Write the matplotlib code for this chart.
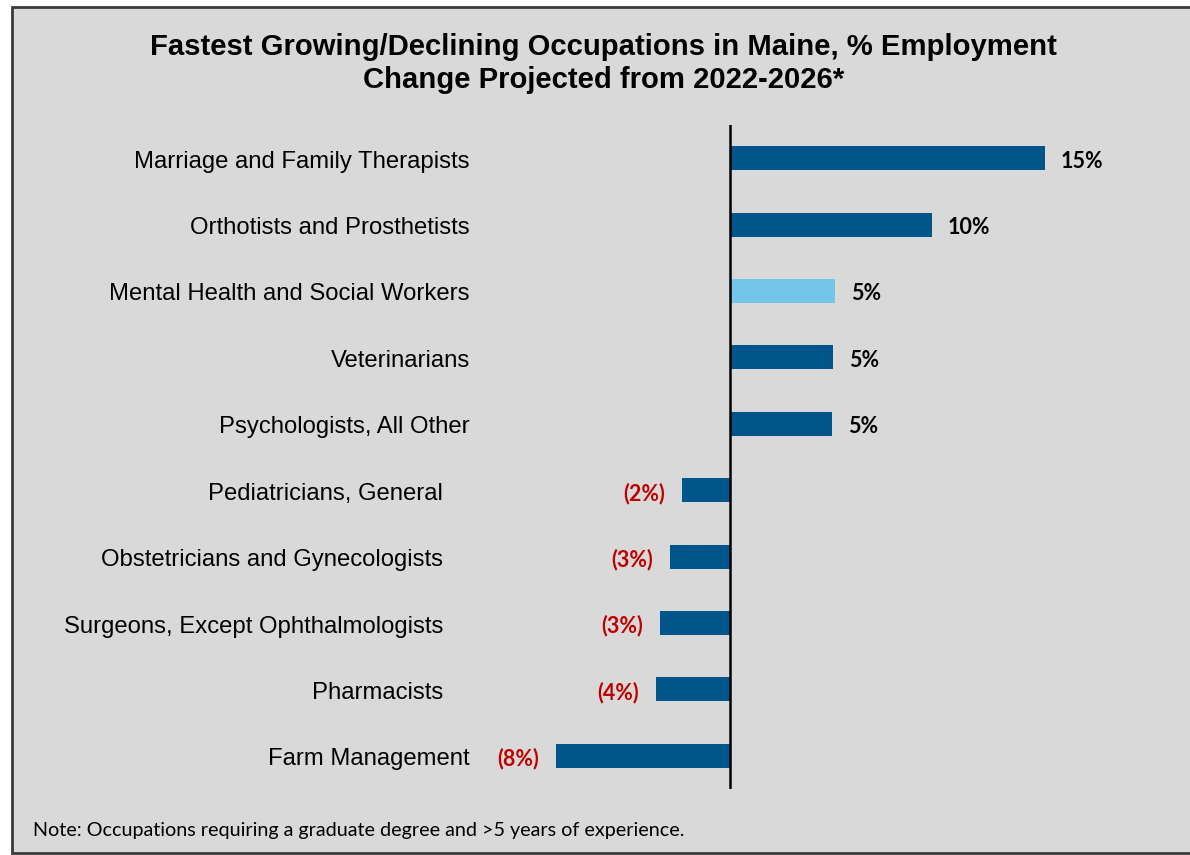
import matplotlib
matplotlib.use("Agg")
import matplotlib.pyplot as plt
from matplotlib.patches import Rectangle

# Projected % employment change, 2022-2026
occupations = [
    "Marriage and Family Therapists",
    "Orthotists and Prosthetists",
    "Mental Health and Social Workers",
    "Veterinarians",
    "Psychologists, All Other",
    "Pediatricians, General",
    "Obstetricians and Gynecologists",
    "Surgeons, Except Ophthalmologists",
    "Pharmacists",
    "Farm Management",
]
pct_change = [15.0, 9.62, 5.0, 4.9, 4.86, -2.29, -2.86, -3.33, -3.52, -8.29]
highlight = "Mental Health and Social Workers"

DARK_BLUE = "#00558b"
LIGHT_BLUE = "#73c5e9"
NEG_RED = "#c00000"
BG = "#d9d9d9"

# how far left of the zero line each category name ends (pixels)
name_gap = [260, 260, 260, 260, 260, 287, 287, 287, 287, 260]

W, H = 1190, 855
fig = plt.figure(figsize=(W / 100, H / 100), dpi=100)
fig.patch.set_facecolor("white")

# grey panel with dark frame
fig.patches.append(Rectangle((12 / W, 1 - 853 / H), 1.0, (853 - 7) / H,
                             transform=fig.transFigure, facecolor=BG,
                             edgecolor="#3a3a3a", linewidth=2, zorder=-10))

fig.text(0.507, 1 - 47 / H, "Fastest Growing/Declining Occupations in Maine, % Employment",
         ha="center", va="center", fontsize=21.1, fontweight="bold",
         family="Liberation Sans")
fig.text(0.507, 1 - 80 / H, "Change Projected from 2022-2026*",
         ha="center", va="center", fontsize=21.1, fontweight="bold",
         family="Liberation Sans")

# axes spans the full width; zero sits at x=730px, 21px per percent
ax = fig.add_axes([0, 1 - 789 / H, 1, (789 - 125) / H])
ax.set_facecolor("none")
ax.set_xlim(-730 / 21, (W - 730) / 21)
n = len(occupations)
ax.set_ylim(n - 0.5, -0.5)
for s in ax.spines.values():
    s.set_visible(False)
ax.set_xticks([])
ax.set_yticks([])

ypos = list(range(n))
colors = [LIGHT_BLUE if o == highlight else DARK_BLUE for o in occupations]
ax.barh(ypos, pct_change, height=0.36, color=colors, zorder=2)
ax.axvline(0, color="black", linewidth=1.8, zorder=3)

for y, name, v, gap in zip(ypos, occupations, pct_change, name_gap):
    ax.annotate(name, xy=(0, y), xytext=(-gap, -1), textcoords="offset pixels",
                ha="right", va="center_baseline", fontsize=17.2,
                family="Liberation Sans")
    if v > 0:
        ax.annotate(f"{v:.0f}%", xy=(v, y), xytext=(16, -1), textcoords="offset pixels",
                    ha="left", va="center_baseline", fontsize=15.5, fontweight="bold",
                    family="Lato", color="black")
    else:
        ax.annotate(f"({abs(v):.0f}%)", xy=(v, y), xytext=(-17, -1), textcoords="offset pixels",
                    ha="right", va="center_baseline", fontsize=15.5, fontweight="bold",
                    family="Lato", color=NEG_RED)

fig.text(33 / W, 1 - 830 / H,
         "Note: Occupations requiring a graduate degree and >5 years of experience.",
         ha="left", va="center", fontsize=14.2, family="Lato")

fig.savefig("out.png", dpi=100, facecolor=fig.get_facecolor())
